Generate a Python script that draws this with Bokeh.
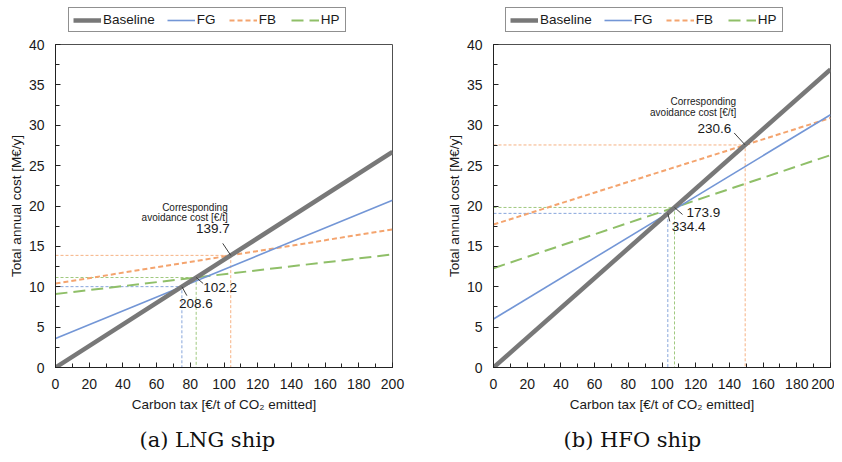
from bokeh.plotting import figure
from bokeh.layouts import row, column
from bokeh.models import Range1d, SingleIntervalTicker, Legend, LegendItem, Label, Title
from bokeh.embed import file_html
from bokeh.resources import INLINE

# ---- data ----
tax = [0, 200]                      # carbon tax [€/t CO2]
lng_baseline = [0.0, 26.7]
lng_fg = [3.6, 20.7]
lng_fb = [10.4, 17.1]
lng_hp = [9.1, 14.0]
hfo_baseline = [0.0, 36.9]
hfo_fg = [6.0, 31.3]
hfo_fb = [17.7, 30.9]
hfo_hp = [12.3, 26.3]
series_names = ["FG", "FB", "HP"]
legend_labels = ["Baseline", "FG", "FB", "HP"]
lng_costs = {"FG": "208.6", "FB": "139.7", "HP": "102.2"}
hfo_costs = {"FG": "334.4", "FB": "230.6", "HP": "173.9"}
captions = ["(a) LNG ship", "(b) HFO ship"]

# ---- styles ----
FONT = "Liberation Sans"
COL = {"Baseline": "#787878", "FG": "#7396d6", "FB": "#f4a46e", "HP": "#8fbf68"}
DASH = {"Baseline": "solid", "FG": "solid", "FB": "5 3", "HP": "12 6"}
WID = {"Baseline": 4.5, "FG": 1.6, "FB": 2.0, "HP": 2.0}
FW, FH = 337, 323
KX, KY = FW / 200.0, FH / 40.0
LEG_H = 33


def legend_fig(width, x_left, baseline, ser):
    # legend-only strip above each panel; the lines themselves fall outside its y-range
    lf = figure(width=width, height=LEG_H, x_range=Range1d(0, 200), y_range=Range1d(100, 101),
                output_backend="svg", toolbar_location=None, x_axis_type=None, y_axis_type=None,
                min_border=0)
    lf.grid.visible = False
    lf.outline_line_color = None
    data = {"Baseline": baseline, **ser}
    items = []
    for name in legend_labels:
        r = lf.line(tax, data[name], line_color=COL[name], line_width=WID[name],
                    line_dash=DASH[name])
        items.append(LegendItem(label=name, renderers=[r]))
    legend = Legend(items=items, location=(x_left, 1), orientation="horizontal")
    legend.border_line_color = "#222222"
    legend.border_line_width = 1
    legend.background_fill_alpha = 1
    legend.label_text_font = FONT
    legend.label_text_font_size = "13.5px"
    legend.label_text_color = "#1a1a1a"
    legend.glyph_width = 28
    legend.glyph_height = 14
    legend.label_height = 14
    legend.label_standoff = 2
    legend.spacing = 12
    legend.padding = 4
    legend.margin = 0
    lf.add_layout(legend)
    return lf


def make(baseline, ser, costs, place, desc, caption, cap_left, bl, br):
    p = figure(frame_width=FW, frame_height=FH, x_range=Range1d(0, 200), y_range=Range1d(0, 40),
               output_backend="svg", toolbar_location=None,
               min_border_left=bl, min_border_right=br, min_border_top=44 - LEG_H,
               min_border_bottom=10)
    p.grid.visible = False
    p.outline_line_color = "#505050"
    p.xaxis.ticker = SingleIntervalTicker(interval=20, num_minor_ticks=2)
    p.yaxis.ticker = SingleIntervalTicker(interval=5, num_minor_ticks=2)
    for ax in (p.xaxis[0], p.yaxis[0]):
        ax.major_tick_in = 5
        ax.major_tick_out = 0
        ax.minor_tick_in = 4
        ax.minor_tick_out = 0
        ax.axis_line_color = "#222222"
        ax.major_tick_line_color = "#222222"
        ax.minor_tick_line_color = "#222222"
        ax.major_label_text_font = FONT
        ax.major_label_text_font_size = "14px"
        ax.major_label_text_color = "#1a1a1a"
        ax.axis_label_text_font = FONT
        ax.axis_label_text_font_size = "13.5px"
        ax.axis_label_text_font_style = "normal"
        ax.axis_label_text_color = "#1a1a1a"
    p.xaxis.major_label_standoff = 11
    p.xaxis.axis_label_standoff = 5
    p.yaxis.major_label_standoff = 11
    p.yaxis.axis_label_standoff = 2
    p.xaxis.axis_label = "Carbon tax [€/t of CO₂ emitted]"
    p.yaxis.axis_label = "Total annual cost [M€/y]"

    sb = (baseline[1] - baseline[0]) / (tax[1] - tax[0])
    inter = {}
    for name in series_names:
        ys = ser[name]
        s = (ys[1] - ys[0]) / (tax[1] - tax[0])
        xi = (ys[0] - baseline[0]) / (sb - s)
        yi = baseline[0] + sb * xi
        inter[name] = (xi, yi)
        p.line([0, xi, xi], [yi, yi, 0], line_color=COL[name], line_width=1,
               line_dash="3 2", line_alpha=0.85)

    for name in ["FB", "HP", "FG"]:
        p.line(tax, ser[name], line_color=COL[name], line_width=WID[name], line_dash=DASH[name])
    p.line(tax, baseline, line_color=COL["Baseline"], line_width=WID["Baseline"])

    for name in series_names:
        xi, yi = inter[name]
        tdx, tdy, align, base, ldx, ldy = place[name]
        p.segment(x0=[xi], y0=[yi], x1=[xi + ldx / KX], y1=[yi + ldy / KY],
                  line_color="#404040", line_width=1)
        p.add_layout(Label(x=xi, y=yi, x_offset=tdx, y_offset=tdy, text=costs[name],
                           text_align=align, text_baseline=base, text_font=FONT,
                           text_font_size="13.5px", text_color="#1a1a1a"))
    xi, yi = inter["FB"]
    for txt, ddx, ddy in desc:
        p.add_layout(Label(x=xi, y=yi, x_offset=ddx, y_offset=ddy, text=txt,
                           text_align="right", text_baseline="bottom", text_font=FONT,
                           text_font_size="10px", text_color="#1a1a1a"))

    t = Title(text=caption, align="left", offset=cap_left, text_font="DejaVu Serif",
              text_font_size="21px", text_font_style="normal", text_color="#111111",
              standoff=22)
    p.add_layout(t, "below")
    return p


lng_place = {"FB": (-1, 22, "right", "bottom", -8, 12),
             "HP": (7, -5, "left", "top", 7, -6),
             "FG": (-3, -12, "left", "top", 5, -9)}
lng_desc = [("Corresponding", -3, 42), ("avoidance cost [€/t]", -3, 32)]
hfo_place = {"FB": (-14, 12, "right", "bottom", -11, 12),
             "HP": (12, -1, "left", "top", 8, -7),
             "FG": (4, -9, "left", "top", 2, -8)}
hfo_desc = [("Corresponding", -9, 38), ("avoidance cost [€/t]", -9, 27)]

lng_ser = {"FG": lng_fg, "FB": lng_fb, "HP": lng_hp}
hfo_ser = {"FG": hfo_fg, "FB": hfo_fb, "HP": hfo_hp}
p1 = make(lng_baseline, lng_ser, lng_costs, lng_place, lng_desc, captions[0], 84, 55, 29)
p2 = make(hfo_baseline, hfo_ser, hfo_costs, hfo_place, hfo_desc, captions[1], 70, 72, 4)
l1 = legend_fig(421, 68, lng_baseline, lng_ser)
l2 = legend_fig(413, 84, hfo_baseline, hfo_ser)

layout = column(row(l1, l2), row(p1, p2))
open("out.html", "w").write(file_html(layout, INLINE))
